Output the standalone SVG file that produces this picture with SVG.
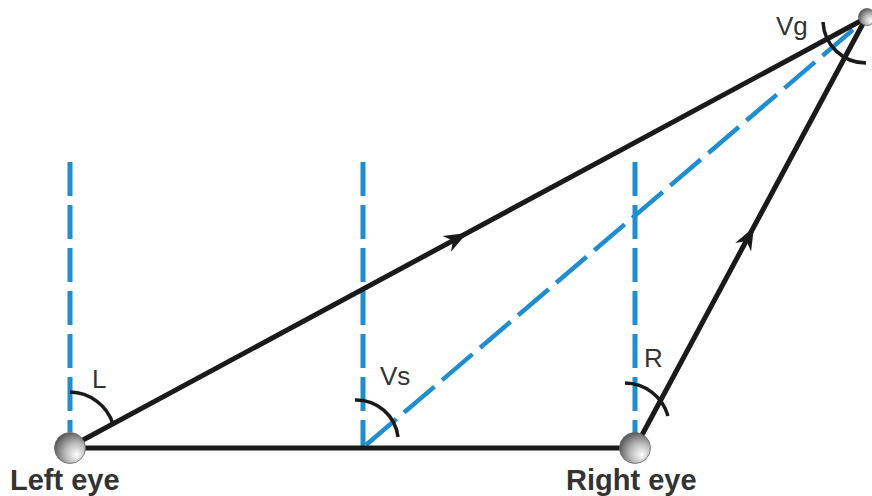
<svg xmlns="http://www.w3.org/2000/svg" width="872" height="496" viewBox="0 0 872 496">
  <style>
    .ray { stroke: #1a1a1a; stroke-width: 5; fill: none; stroke-linecap: round; }
    .axis { stroke: #1e8ed3; stroke-width: 5; fill: none; stroke-dasharray: 34 9; }
    .sight { stroke: #1e8ed3; stroke-width: 4.5; fill: none; stroke-dasharray: 40 10; }
    .angle { stroke: #1a1a1a; stroke-width: 3.5; fill: none; }
    .lbl { font-family: "Liberation Sans", Arial, sans-serif; font-size: 26px; fill: #333; }
    .eye-lbl { font-family: "Liberation Sans", Arial, sans-serif; font-size: 29px; font-weight: bold; fill: #333; }
  </style>
  <defs>
    <radialGradient id="ball" cx="0.65" cy="0.65" r="0.7" fx="0.72" fy="0.72">
      <stop offset="0" stop-color="#ffffff"/>
      <stop offset="0.5" stop-color="#b8b8b8"/>
      <stop offset="1" stop-color="#555555"/>
    </radialGradient>
    <path id="arrowhead" d="M0,0 L-23,-9 L-16,0 L-23,9 Z" fill="#1a1a1a"/>
  </defs>
  <rect width="872" height="496" fill="#ffffff"/>

  <g id="connectors">
    <line class="axis" x1="70" y1="162" x2="70" y2="432"/>
    <line class="axis" x1="363" y1="162" x2="363" y2="447"/>
    <line class="axis" x1="635" y1="162" x2="635" y2="433"/>
    <line class="sight" x1="366" y1="445" x2="862" y2="22"/>
    <line class="ray" x1="70" y1="448" x2="635" y2="448"/>
    <line class="ray" x1="70" y1="447" x2="866" y2="18"/>
    <line class="ray" x1="635" y1="448" x2="866" y2="18"/>
    <use href="#arrowhead" transform="translate(467,233) rotate(-28.3)"/>
    <use href="#arrowhead" transform="translate(754,227) rotate(-61.8)"/>
    <path class="angle" d="M70,392 A46,46 0 0 1 113,424"/>
    <path class="angle" d="M355,400 A42,42 0 0 1 398,437"/>
    <path class="angle" d="M625,383 A45,45 0 0 1 668,416"/>
    <path class="angle" d="M823,22 A43,43 0 0 0 866,63"/>
  </g>

  <g id="left-eye">
    <circle cx="70" cy="448" r="15.5" fill="url(#ball)" stroke="#666" stroke-width="0.8"/>
    <text class="eye-lbl" x="10" y="490">Left eye</text>
  </g>
  <g id="right-eye">
    <circle cx="635" cy="448" r="15.5" fill="url(#ball)" stroke="#666" stroke-width="0.8"/>
    <text class="eye-lbl" x="566" y="490">Right eye</text>
  </g>
  <g id="target">
    <circle cx="867" cy="17" r="8.5" fill="url(#ball)" stroke="#666" stroke-width="0.8"/>
  </g>
  <g id="labels">
    <text class="lbl" x="92" y="388">L</text>
    <text class="lbl" x="380" y="385">Vs</text>
    <text class="lbl" x="644" y="367">R</text>
    <text class="lbl" x="776" y="35">Vg</text>
  </g>
</svg>
